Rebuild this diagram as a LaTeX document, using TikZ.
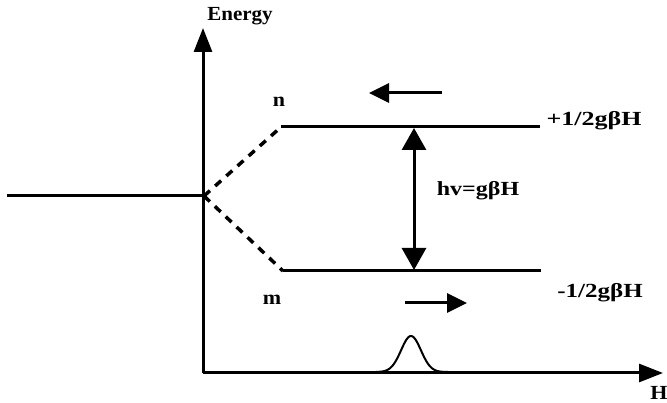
\documentclass[tikz,border=0pt]{standalone}
\usepackage{fontspec}
\setmainfont{Liberation Serif}
\usetikzlibrary{arrows.meta}
\newcommand{\wide}[2]{\scalebox{#1}[1]{#2}}
\begin{document}
\begin{tikzpicture}[x=1pt,y=-1pt,
  lbl/.style={font=\fontsize{20}{22}\selectfont\bfseries, inner sep=0pt},
  lvl/.style={line width=3pt},
  axis/.style={line width=3pt, -{Triangle[length=24pt,width=18pt]}},
  dsh/.style={line width=3.5pt, dash pattern=on 8pt off 7pt},
  dbl/.style={line width=3pt, {Triangle[length=22pt,width=24pt]}-{Triangle[length=22pt,width=24pt]}},
  small/.style={line width=3pt, -{Triangle[length=20pt,width=19pt]}}]
\useasboundingbox (0,0) rectangle (667,403);
\coordinate (O) at (203,373);
\coordinate (Ytop) at (203,28);
\coordinate (Xend) at (663,373);
\coordinate (L0) at (7,196);
\coordinate (S) at (204,196);
\coordinate (U1) at (281,127);
\coordinate (U2) at (540,127);
\coordinate (D1) at (283,271);
\coordinate (D2) at (541,271);
\coordinate (T1) at (414,128);
\coordinate (T2) at (414,270);
\draw[axis] (O) -- (Ytop);
\draw[axis] (O) -- (Xend);
\draw[lvl] (L0) -- (S);
\draw[lvl] (U1) -- (U2);
\draw[lvl] (D1) -- (D2);
\draw[dsh] (S) -- (U1);
\draw[dsh] (S) -- (D1);
\draw[dbl] (T1) -- (T2);
\coordinate (la1) at (442,93);
\coordinate (la2) at (369,93);
\coordinate (ra1) at (405,303);
\coordinate (ra2) at (467,303);
\draw[small] (la1) -- (la2);
\draw[small] (ra1) -- (ra2);
\draw[line width=2pt] plot[domain=376:448, samples=70, smooth] (\x, {372 - 36*exp(-((\x-411)/14)^2)});
\node[lbl] (energy) at (240,16) {\wide{1.05}{Energy}};
\node[lbl] (hax) at (659,393) {\wide{1.1}{H}};
\node[lbl] (n) at (279,102) {\wide{1.1}{n}};
\node[lbl] (m) at (272,300) {\wide{1.1}{m}};
\node[lbl] (hv) at (478,191) {\wide{1.2}{hv=gβH}};
\node[lbl] (up) at (594,121) {\wide{1.3}{+1/2gβH}};
\node[lbl] (dn) at (600,293) {\wide{1.25}{-1/2gβH}};
\end{tikzpicture}
\end{document}
